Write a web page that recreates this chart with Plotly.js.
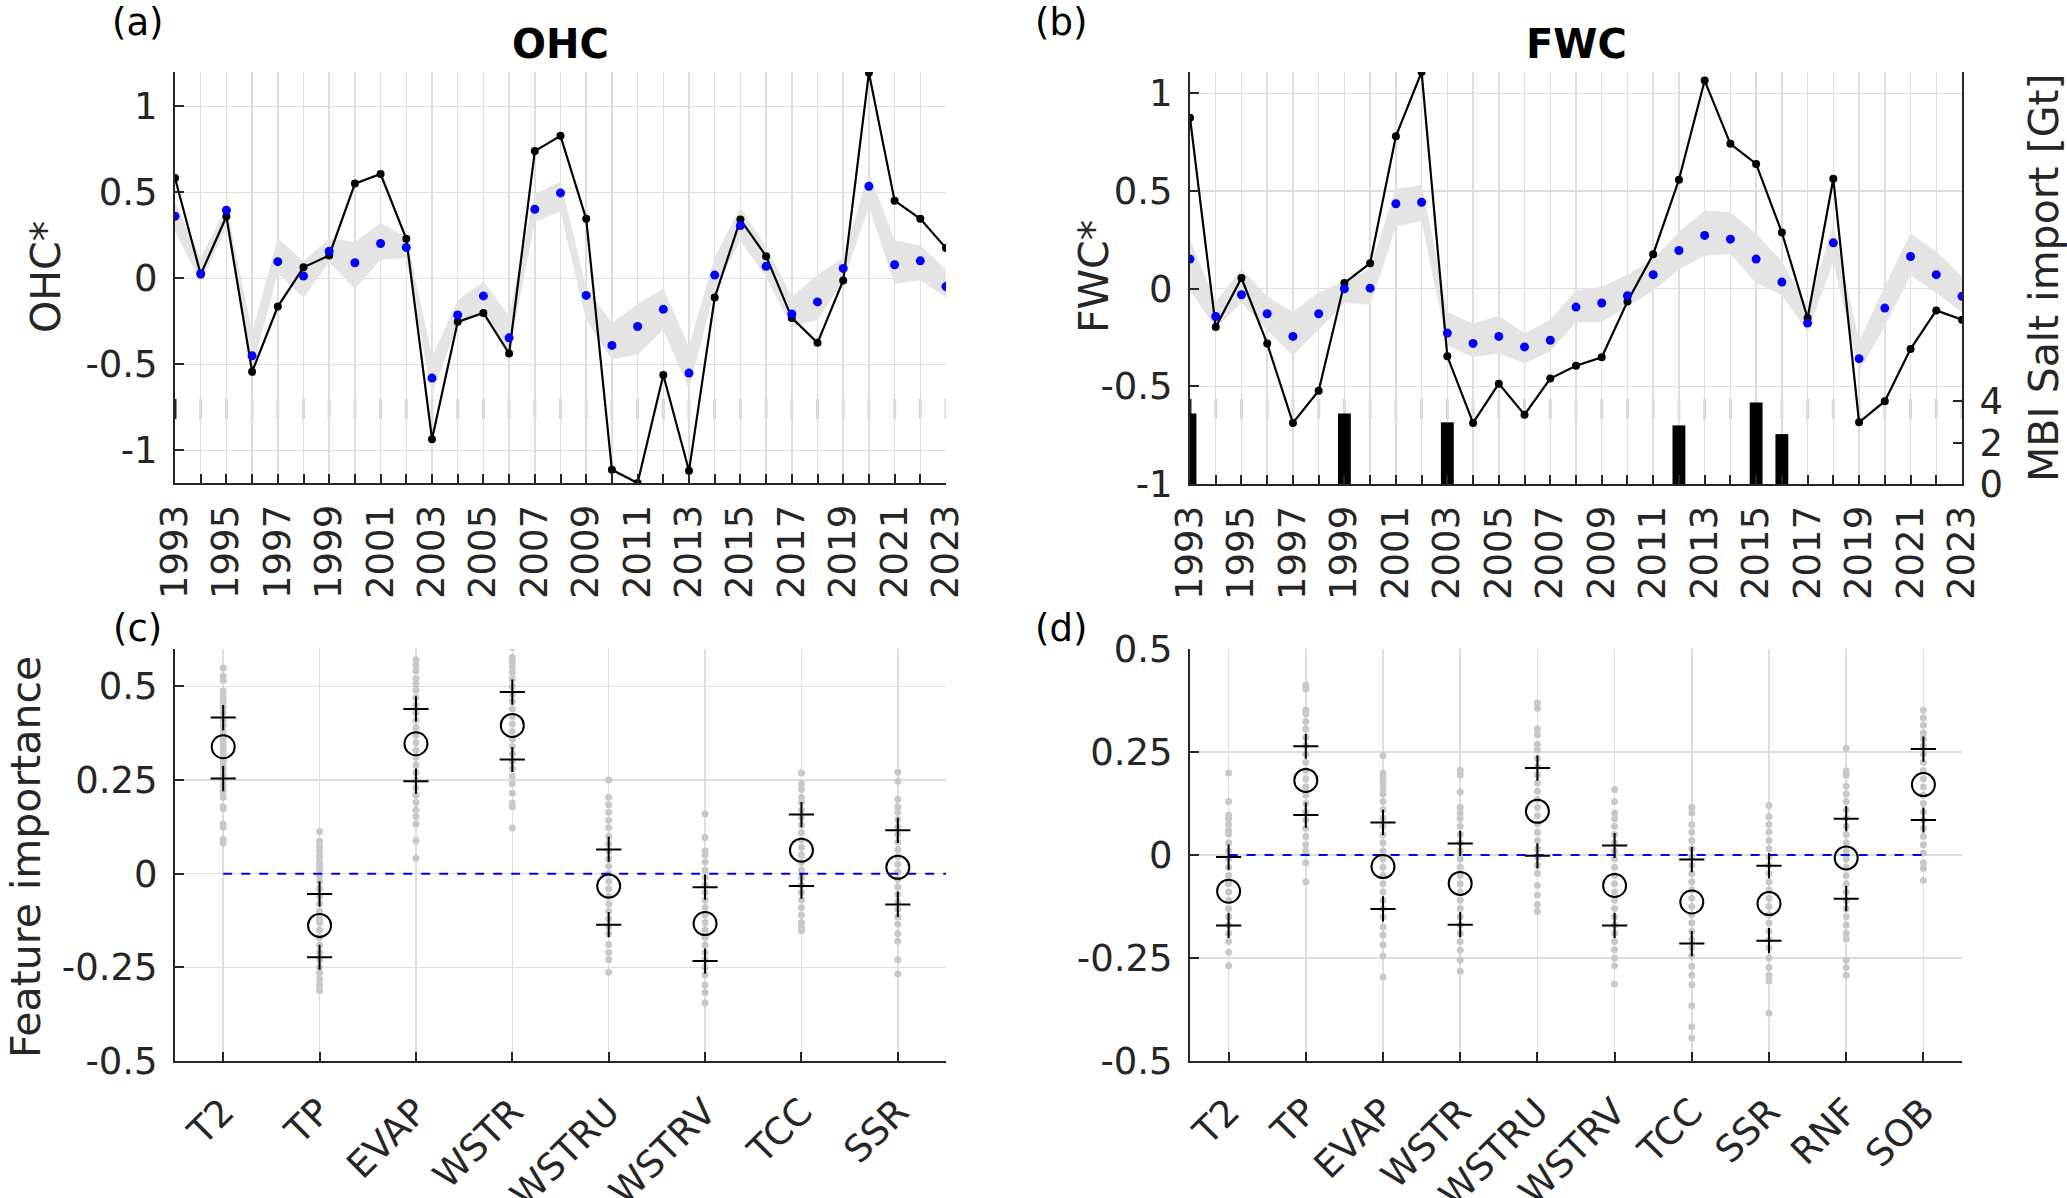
<!DOCTYPE html>
<html><head><meta charset="utf-8">
<script src="https://cdn.plot.ly/plotly-3.0.1.min.js"></script>
<style>body{margin:0;background:#fff}#chart{width:2067px;height:1198px}</style>
</head><body><div id="chart"></div>
<script>
// ---------------- DATA ----------------
const years = [1993,1994,1995,1996,1997,1998,1999,2000,2001,2002,2003,2004,2005,2006,2007,2008,2009,2010,2011,2012,2013,2014,2015,2016,2017,2018,2019,2020,2021,2022,2023];
const yearLabels = [1993,1995,1997,1999,2001,2003,2005,2007,2009,2011,2013,2015,2017,2019,2021,2023];

// Panel (a) OHC
const ohcObs  = [0.584,0.023,0.36,-0.543,-0.164,0.064,0.133,0.551,0.607,0.23,-0.935,-0.253,-0.201,-0.437,0.74,0.829,0.346,-1.113,-1.19,-0.562,-1.119,-0.112,0.342,0.129,-0.23,-0.375,-0.012,1.196,0.452,0.346,0.176];
const ohcMean = [0.361,0.027,0.396,-0.45,0.097,0.014,0.158,0.091,0.203,0.18,-0.58,-0.213,-0.102,-0.346,0.402,0.497,-0.099,-0.39,-0.28,-0.18,-0.551,0.019,0.307,0.07,-0.207,-0.137,0.058,0.535,0.079,0.102,-0.048];
const ohcEnsHi = [0.44,0.12,0.41,-0.32,0.23,0.10,0.23,0.21,0.32,0.24,-0.46,-0.13,-0.02,-0.22,0.49,0.56,-0.06,-0.26,-0.15,-0.06,-0.40,0.12,0.41,0.18,-0.11,0.02,0.12,0.61,0.22,0.19,0.05];
const ohcEnsLo = [0.28,-0.02,0.30,-0.52,0.03,-0.11,0.095,-0.06,0.11,0.12,-0.67,-0.26,-0.20,-0.42,0.33,0.39,-0.24,-0.47,-0.44,-0.30,-0.64,-0.06,0.22,0.01,-0.28,-0.24,-0.01,0.42,-0.03,-0.01,-0.11];

// Panel (b) FWC
const fwcObs  = [0.876,-0.196,0.055,-0.281,-0.687,-0.522,0.029,0.131,0.781,1.11,-0.346,-0.687,-0.486,-0.645,-0.46,-0.394,-0.351,-0.065,0.177,0.558,1.066,0.742,0.639,0.288,-0.15,0.563,-0.684,-0.576,-0.309,-0.111,-0.159];
const fwcMean = [0.152,-0.142,-0.031,-0.128,-0.244,-0.128,0.0,0.003,0.435,0.443,-0.227,-0.28,-0.244,-0.298,-0.264,-0.094,-0.073,-0.036,0.072,0.196,0.273,0.254,0.152,0.034,-0.176,0.235,-0.358,-0.099,0.165,0.072,-0.039];
const fwcEnsHi = [0.25,-0.07,0.10,-0.04,-0.12,-0.02,0.04,0.10,0.51,0.53,-0.12,-0.18,-0.14,-0.23,-0.16,-0.01,0.01,0.07,0.15,0.29,0.40,0.39,0.28,0.14,-0.09,0.32,-0.27,0.01,0.28,0.19,0.06];
const fwcEnsLo = [-0.005,-0.2,-0.07,-0.21,-0.34,-0.21,-0.07,-0.08,0.32,0.35,-0.29,-0.35,-0.33,-0.38,-0.32,-0.17,-0.17,-0.09,-0.01,0.10,0.17,0.18,0.03,-0.03,-0.22,0.14,-0.42,-0.19,0.07,-0.02,-0.12];

// MBI salt import [Gt]
const mbiYears = [1993,1999,2003,2012,2015,2016];
const mbiSalt  = [3.4,3.4,2.98,2.83,3.94,2.41];

// Panel (c) feature importance OHC
const catsC = ['T2','TP','EVAP','WSTR','WSTRU','WSTRV','TCC','SSR'];
const medC = [0.339,-0.138,0.347,0.396,-0.033,-0.133,0.063,0.017];
const hiC  = [0.417,-0.054,0.44,0.485,0.065,-0.036,0.158,0.116];
const loC  = [0.254,-0.223,0.247,0.305,-0.136,-0.233,-0.033,-0.082];
const ensC_T2    = [0.549,0.527,0.516,0.488,0.472,0.46,0.445,0.43,0.41,0.395,0.38,0.37,0.36,0.35,0.34,0.33,0.32,0.31,0.30,0.29,0.28,0.265,0.25,0.235,0.22,0.204,0.179,0.174,0.133,0.125,0.092,0.082];
const ensC_TP    = [0.112,0.087,0.072,0.061,0.046,0.031,0.02,0.01,-0.005,-0.02,-0.04,-0.06,-0.08,-0.1,-0.12,-0.13,-0.15,-0.17,-0.19,-0.21,-0.23,-0.25,-0.265,-0.281,-0.297,-0.312];
const ensC_EVAP  = [0.571,0.557,0.542,0.521,0.506,0.49,0.47,0.45,0.43,0.41,0.39,0.37,0.35,0.33,0.31,0.29,0.27,0.25,0.23,0.21,0.19,0.17,0.153,0.133,0.089,0.041];
const ensC_WSTR  = [0.605,0.578,0.567,0.552,0.537,0.52,0.5,0.48,0.46,0.44,0.42,0.4,0.38,0.36,0.34,0.32,0.3,0.28,0.26,0.24,0.215,0.189,0.179,0.122];
const ensC_WSTRU = [0.25,0.204,0.184,0.164,0.143,0.123,0.1,0.08,0.06,0.04,0.02,0.0,-0.02,-0.04,-0.06,-0.08,-0.1,-0.12,-0.14,-0.16,-0.189,-0.21,-0.23,-0.263];
const ensC_WSTRV = [0.16,0.097,0.061,0.051,0.031,0.01,-0.01,-0.03,-0.05,-0.07,-0.09,-0.11,-0.13,-0.15,-0.17,-0.19,-0.21,-0.23,-0.25,-0.27,-0.297,-0.317,-0.345];
const ensC_TCC   = [0.269,0.24,0.225,0.204,0.19,0.17,0.15,0.13,0.11,0.09,0.07,0.05,0.03,0.01,-0.01,-0.03,-0.05,-0.07,-0.09,-0.11,-0.13,-0.143,-0.153];
const ensC_SSR   = [0.271,0.247,0.199,0.179,0.164,0.145,0.125,0.105,0.085,0.065,0.045,0.025,0.005,-0.015,-0.035,-0.055,-0.075,-0.095,-0.115,-0.135,-0.16,-0.18,-0.23,-0.268];

// Panel (d) feature importance FWC
const catsD = ['T2','TP','EVAP','WSTR','WSTRU','WSTRV','TCC','SSR','RNF','SOB'];
const medD = [-0.088,0.181,-0.028,-0.069,0.106,-0.074,-0.114,-0.118,-0.007,0.171];
const hiD  = [-0.005,0.264,0.079,0.028,0.211,0.023,-0.011,-0.026,0.088,0.257];
const loD  = [-0.171,0.097,-0.131,-0.169,-0.002,-0.171,-0.215,-0.208,-0.106,0.085];
const ensD_T2    = [0.199,0.13,0.097,0.088,0.074,0.06,0.051,0.03,0.01,-0.01,-0.03,-0.05,-0.07,-0.09,-0.11,-0.13,-0.15,-0.17,-0.19,-0.21,-0.236,-0.269];
const ensD_TP    = [0.412,0.403,0.352,0.343,0.324,0.306,0.285,0.265,0.245,0.225,0.205,0.185,0.165,0.145,0.125,0.105,0.085,0.065,0.045,0.025,0.009,-0.019,-0.065];
const ensD_EVAP  = [0.241,0.199,0.19,0.176,0.162,0.148,0.13,0.11,0.09,0.07,0.05,0.03,0.01,-0.01,-0.03,-0.05,-0.07,-0.09,-0.11,-0.13,-0.15,-0.175,-0.194,-0.218,-0.245,-0.296];
const ensD_WSTR  = [0.206,0.194,0.153,0.116,0.102,0.088,0.07,0.05,0.03,0.01,-0.01,-0.03,-0.05,-0.07,-0.09,-0.11,-0.13,-0.15,-0.17,-0.19,-0.21,-0.231,-0.255,-0.282];
const ensD_WSTRU = [0.369,0.356,0.306,0.292,0.269,0.255,0.235,0.215,0.195,0.175,0.155,0.135,0.115,0.095,0.075,0.055,0.035,0.015,-0.005,-0.025,-0.045,-0.074,-0.097,-0.12,-0.137];
const ensD_WSTRV = [0.159,0.13,0.102,0.088,0.07,0.05,0.03,0.01,-0.01,-0.03,-0.05,-0.07,-0.09,-0.11,-0.13,-0.15,-0.17,-0.19,-0.21,-0.23,-0.25,-0.269,-0.313];
const ensD_TCC   = [0.116,0.102,0.074,0.056,0.035,0.015,-0.005,-0.025,-0.045,-0.065,-0.085,-0.105,-0.125,-0.145,-0.165,-0.185,-0.205,-0.225,-0.245,-0.27,-0.292,-0.315,-0.366,-0.417,-0.444];
const ensD_SSR   = [0.12,0.093,0.074,0.056,0.035,0.015,-0.005,-0.025,-0.045,-0.065,-0.085,-0.105,-0.125,-0.145,-0.165,-0.185,-0.205,-0.225,-0.25,-0.273,-0.292,-0.306,-0.384];
const ensD_RNF   = [0.259,0.204,0.194,0.167,0.148,0.13,0.11,0.09,0.07,0.05,0.03,0.01,-0.01,-0.03,-0.05,-0.07,-0.09,-0.11,-0.13,-0.15,-0.17,-0.19,-0.204,-0.255,-0.273,-0.292];
const ensD_SOB   = [0.352,0.333,0.315,0.296,0.282,0.265,0.245,0.225,0.205,0.185,0.165,0.145,0.125,0.105,0.085,0.065,0.045,0.025,0.005,-0.019,-0.032,-0.062];

// ---------------- BUILD ----------------
const W = 2067, H = 1198;
const fx = p => p / W, fy = p => 1 - p / H;
const AX = '#262626', GRID = '#dedede', FONT = 'DejaVu Sans';
const ensC = [ensC_T2,ensC_TP,ensC_EVAP,ensC_WSTR,ensC_WSTRU,ensC_WSTRV,ensC_TCC,ensC_SSR];
const ensD = [ensD_T2,ensD_TP,ensD_EVAP,ensD_WSTR,ensD_WSTRU,ensD_WSTRV,ensD_TCC,ensD_SSR,ensD_RNF,ensD_SOB];
const idx = arr => arr.map((_, i) => i + 1);
function flatX(ens){ const o=[]; ens.forEach((a,i)=>a.forEach(()=>o.push(i+1))); return o; }
function flatY(ens){ const o=[]; ens.forEach(a=>a.forEach(v=>o.push(v))); return o; }

const traces = [];
function tsPanel(xa, ya, obs, mean, lo, hi){
  traces.push({x:years, y:lo, xaxis:xa, yaxis:ya, mode:'lines', line:{width:0.5,color:'#e4e4e4'}, hoverinfo:'skip'});
  traces.push({x:years, y:hi, xaxis:xa, yaxis:ya, mode:'lines', fill:'tonexty', fillcolor:'#e4e4e4', line:{width:0.5,color:'#e4e4e4'}, hoverinfo:'skip'});
  traces.push({x:years, y:obs, xaxis:xa, yaxis:ya, mode:'lines+markers', line:{color:'#000', width:2.2}, marker:{color:'#000', size:8}});
  traces.push({x:years, y:mean, xaxis:xa, yaxis:ya, mode:'markers', marker:{color:'#0000ff', size:9}});
}
tsPanel('x','y', ohcObs, ohcMean, ohcEnsLo, ohcEnsHi);
traces.push({type:'bar', x:mbiYears, y:mbiSalt, xaxis:'x2', yaxis:'y3', width:0.5, marker:{color:'#000', line:{width:0}}});
tsPanel('x2','y2', fwcObs, fwcMean, fwcEnsLo, fwcEnsHi);

function fiPanel(xa, ya, cats, med, lo, hi, ens, zeroEnd){
  traces.push({x:flatX(ens), y:flatY(ens), xaxis:xa, yaxis:ya, mode:'markers', marker:{color:'#c8c8c8', size:7}});
  traces.push({x:[1, zeroEnd], y:[0,0], xaxis:xa, yaxis:ya, mode:'lines', line:{color:'#0000ff', width:2, dash:'dash'}});
  traces.push({x:idx(cats).concat(idx(cats)), y:hi.concat(lo), xaxis:xa, yaxis:ya, mode:'markers', marker:{symbol:'cross-thin-open', size:18, color:'#000', line:{color:'#000', width:2}}});
  traces.push({x:idx(cats), y:med, xaxis:xa, yaxis:ya, mode:'markers', marker:{symbol:'circle-open', size:23, color:'#000', line:{color:'#000', width:2}}});
}
fiPanel('x3','y4', catsC, medC, loC, hiC, ensC, catsC.length + 0.5);
fiPanel('x4','y5', catsD, medD, loD, hiD, ensD, catsD.length);

// faint secondary-axes grid stubs seen in the top panels (decoration, below traces)
const shapes = [];
[['x',1993],['x2',1993]].forEach(([xr, first]) => {
  years.forEach(yr => shapes.push({type:'line', xref:xr, yref:'paper', x0:yr, x1:yr, y0:fy(419), y1:fy(399),
    line:{color:(yr===first?AX:'#d6d6d6'), width:3}, layer:'below'}));
});

const tickFont = {family:FONT, size:37, color:AX};
const base = {showline:true, linecolor:AX, linewidth:2, ticks:'inside', ticklen:9, tickwidth:2, tickcolor:AX,
  showgrid:true, gridcolor:GRID, gridwidth:1.5, zeroline:false, tickfont:tickFont, fixedrange:true};
const yrText = years.map(y => yearLabels.includes(y) ? String(y) : '');
const fmt = v => String(v);

function ann(text, x, y, size, extra){
  return Object.assign({text:text, x:fx(x), y:fy(y), xref:'paper', yref:'paper', xanchor:'center', yanchor:'middle',
    showarrow:false, font:{family:FONT, size:size, color:AX}}, extra||{});
}

const layout = {
  width:W, height:H, margin:{l:0,r:0,t:0,b:0}, paper_bgcolor:'#fff', plot_bgcolor:'rgba(0,0,0,0)', showlegend:false,
  shapes: shapes,
  xaxis: Object.assign({}, base, {domain:[fx(175),fx(946)], anchor:'y', range:[1993,2023], tickmode:'array', tickvals:years, ticktext:yrText, tickangle:-90, ticklabelstandoff:5}),
  yaxis: Object.assign({}, base, {domain:[fy(483),fy(72)], anchor:'x', range:[-1.19,1.2], tickmode:'array', tickvals:[-1,-0.5,0,0.5,1], ticktext:[-1,-0.5,0,0.5,1].map(fmt), ticklabelstandoff:8}),
  xaxis2: Object.assign({}, base, {domain:[fx(1190),fx(1962)], anchor:'y2', range:[1993,2023], tickmode:'array', tickvals:years, ticktext:yrText, tickangle:-90, ticklabelstandoff:5}),
  yaxis2: Object.assign({}, base, {domain:[fy(484),fy(72)], anchor:'x2', range:[-1,1.11], tickmode:'array', tickvals:[-1,-0.5,0,0.5,1], ticktext:[-1,-0.5,0,0.5,1].map(fmt), ticklabelstandoff:8}),
  yaxis3: Object.assign({}, base, {overlaying:'y2', side:'right', anchor:'x2', range:[0,19.9], tickmode:'array', tickvals:[0,2,4], ticktext:['0','2','4'], showgrid:false, ticklabelstandoff:8}),
  xaxis3: Object.assign({}, base, {domain:[fx(175),fx(946)], anchor:'y4', range:[0.5,catsC.length+0.5], tickmode:'array', tickvals:idx(catsC), ticktext:catsC, tickangle:-45, ticklabelstandoff:12}),
  yaxis4: Object.assign({}, base, {domain:[fy(1061),fy(649)], anchor:'x3', range:[-0.5,0.6], tickmode:'array', tickvals:[-0.5,-0.25,0,0.25,0.5], ticktext:[-0.5,-0.25,0,0.25,0.5].map(fmt), ticklabelstandoff:8}),
  xaxis4: Object.assign({}, base, {domain:[fx(1190),fx(1962)], anchor:'y5', range:[0.5,catsD.length+0.5], tickmode:'array', tickvals:idx(catsD), ticktext:catsD, tickangle:-45, ticklabelstandoff:12}),
  yaxis5: Object.assign({}, base, {domain:[fy(1061),fy(649)], anchor:'x4', range:[-0.5,0.5], tickmode:'array', tickvals:[-0.5,-0.25,0,0.25,0.5], ticktext:[-0.5,-0.25,0,0.25,0.5].map(fmt), ticklabelstandoff:8}),
  annotations: [
    ann('<b>OHC</b>', 560, 44, 40, {font:{family:FONT, size:40, color:'#000'}}),
    ann('<b>FWC</b>', 1576, 44, 40, {font:{family:FONT, size:40, color:'#000'}}),
    ann('(a)', 138, 22, 37, {font:{family:FONT, size:37, color:'#000'}}),
    ann('(b)', 1061, 22, 37, {font:{family:FONT, size:37, color:'#000'}}),
    ann('(c)', 137, 628, 37, {font:{family:FONT, size:37, color:'#000'}}),
    ann('(d)', 1061, 628, 37, {font:{family:FONT, size:37, color:'#000'}}),
    ann('OHC*', 46, 277, 41, {textangle:-90}),
    ann('FWC*', 1094, 277, 41, {textangle:-90}),
    ann('MBI Salt import [Gt]', 2044, 278, 41, {textangle:-90}),
    ann('Feature importance', 26, 857, 41, {textangle:-90})
  ]
};
Plotly.newPlot('chart', traces, layout, {displayModeBar:false, staticPlot:true});
</script></body></html>
